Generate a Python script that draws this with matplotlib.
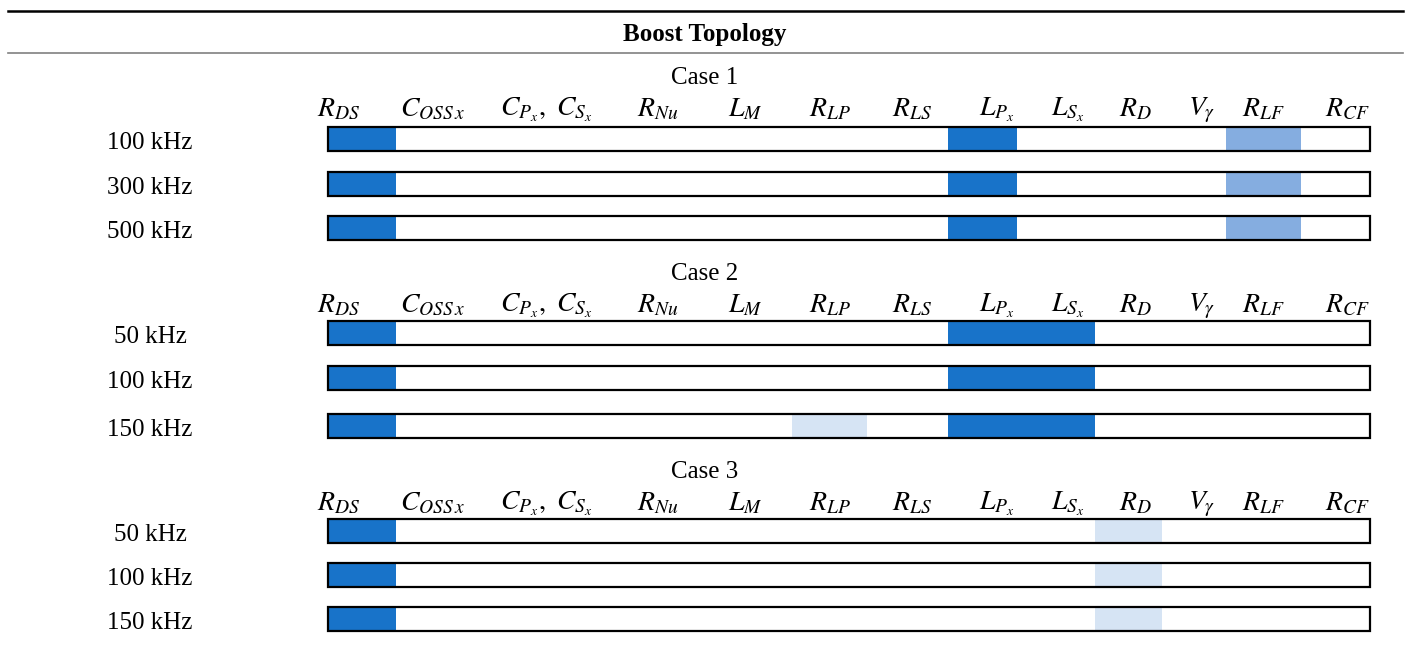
import matplotlib.pyplot as plt

# ---- data ----
title = "Boost Topology"
cases = ["Case 1", "Case 2", "Case 3"]
params = [r"$R_{DS}$", r"$C_{OSS\,x}$", r"$C_{P_x},\ C_{S_x}$", r"$R_{Nu}$", r"$L_M$",
          r"$R_{LP}$", r"$R_{LS}$", r"$L_{P_x}$", r"$L_{S_x}$", r"$R_D$",
          r"$V_\gamma$", r"$R_{LF}$", r"$R_{CF}$"]
param_keys = ["RDS", "COSS", "CPCS", "RNu", "LM", "RLP", "RLS", "LP", "LS", "RD",
              "Vg", "RLF", "RCF"]

case1_freqs = ["100 kHz", "300 kHz", "500 kHz"]
case2_freqs = ["50 kHz", "100 kHz", "150 kHz"]
case3_freqs = ["50 kHz", "100 kHz", "150 kHz"]

# influence level per row: 3 = high, 2 = medium, 1 = low
case1_marks = [{"RDS": 3, "LP": 3, "RLF": 2}] * 3
case2_marks = [{"RDS": 3, "LP": 3, "LS": 3},
               {"RDS": 3, "LP": 3, "LS": 3},
               {"RDS": 3, "RLP": 1, "LP": 3, "LS": 3}]
case3_marks = [{"RDS": 3, "RD": 1}] * 3

# ---- layout (pixel units) ----
W, H = 1408, 648
col_edges = [328, 396, 496, 600, 705, 792, 867, 948, 1017, 1095, 1162, 1226, 1301, 1370]
label_x = [339, 433, 546, 658, 745, 830, 912, 997, 1068, 1135, 1202, 1263, 1347]
case_y = [78, 274, 472]
row_y = [[139, 184, 228], [333, 378, 426], [531, 575, 619]]
bar_h = 24
level_colors = {3: "#1873c9", 2: "#85ade0", 1: "#d6e4f4"}

plt.rcParams["mathtext.fontset"] = "stix"
plt.rcParams["font.family"] = ["Liberation Serif", "DejaVu Serif"]

fig = plt.figure(figsize=(W / 100, H / 100), dpi=100)
ax = fig.add_axes([0, 0, 1, 1])
ax.set_xlim(0, W)
ax.set_ylim(H, 0)
ax.axis("off")

ax.plot([8, 1403], [11, 11], color="black", lw=1.8)
ax.plot([8, 1403], [53, 53], color="#808080", lw=1.2)
ax.text(705, 35, title, ha="center", va="center", fontsize=18, fontweight="bold")

all_freqs = [case1_freqs, case2_freqs, case3_freqs]
all_marks = [case1_marks, case2_marks, case3_marks]

for ci, case in enumerate(cases):
    ax.text(705, case_y[ci], case, ha="center", va="center", fontsize=18)
    for x, lab in zip(label_x, params):
        ax.text(x, case_y[ci] + 32, lab, ha="center", va="center", fontsize=20)
    for ri, (freq, marks) in enumerate(zip(all_freqs[ci], all_marks[ci])):
        y = row_y[ci][ri]
        ax.text(150, y + 4, freq, ha="center", va="center", fontsize=18)
        for key, level in marks.items():
            k = param_keys.index(key)
            ax.barh(y, col_edges[k + 1] - col_edges[k], left=col_edges[k], height=bar_h,
                    color=level_colors[level], linewidth=0)
        ax.barh(y, col_edges[-1] - col_edges[0], left=col_edges[0], height=bar_h,
                fill=False, edgecolor="black", linewidth=1.6)

fig.savefig("out.png", dpi=100)
